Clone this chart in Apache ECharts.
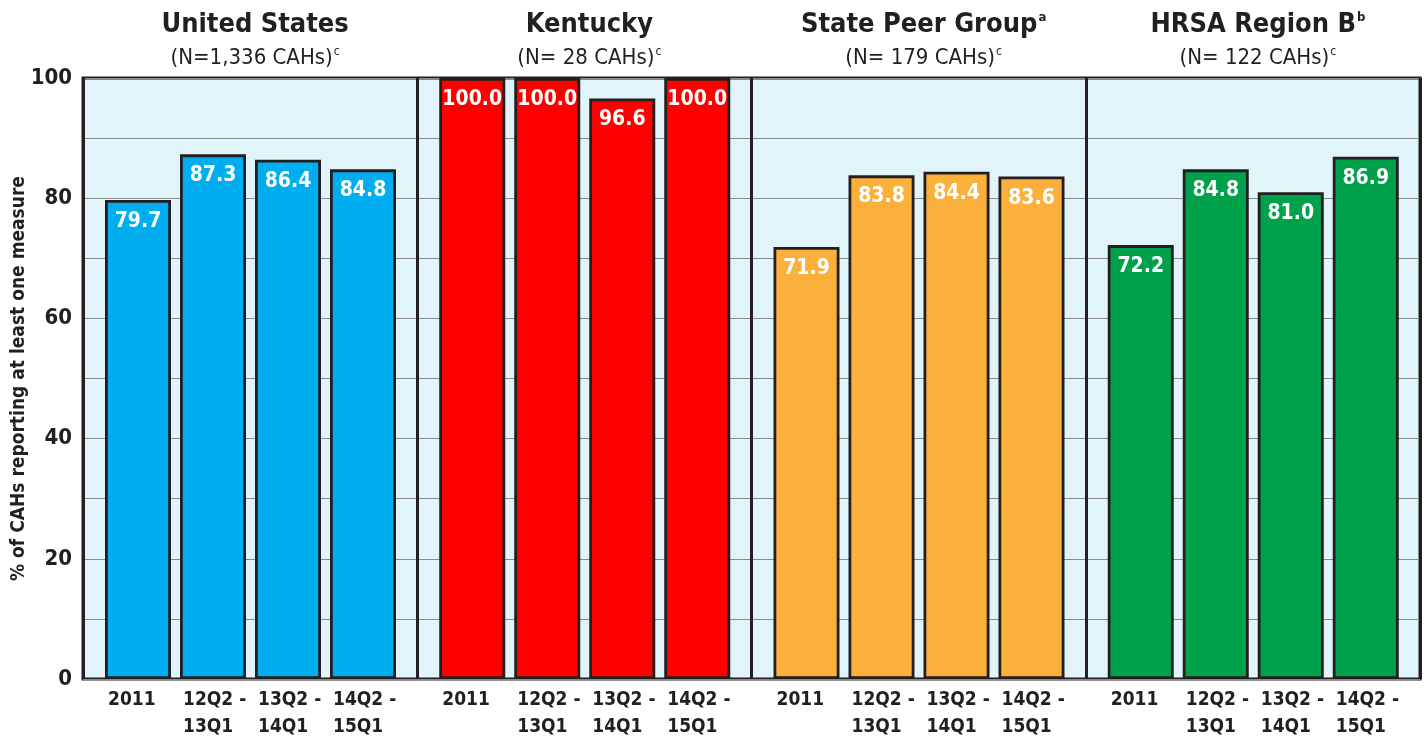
<!DOCTYPE html>
<html>
<head>
<meta charset="utf-8">
<script src="https://cdn.jsdelivr.net/npm/echarts@6/dist/echarts.min.js"></script>
<style>
  html, body { margin: 0; padding: 0; background: #fff; }
  #chart { width: 1426px; height: 740px; }
</style>
</head>
<body>
<div id="chart"></div>
<script>
// data
var periods = ['2011', '12Q2 -\n13Q1', '13Q2 -\n14Q1', '14Q2 -\n15Q1'];
var groupNames = ['United States', 'Kentucky', 'State Peer Group{sup|a}', 'HRSA Region B{sup|b}'];
var groupCounts = ['(N=1,336 CAHs){sup|c}', '(N= 28 CAHs){sup|c}', '(N= 179 CAHs){sup|c}', '(N= 122 CAHs){sup|c}'];
var usValues = [79.7, 87.3, 86.4, 84.8];
var kyValues = [100.0, 100.0, 96.6, 100.0];
var peerValues = [71.9, 83.8, 84.4, 83.6];
var hrsaValues = [72.2, 84.8, 81.0, 86.9];
var yTicks = [0, 20, 40, 60, 80, 100];

var groupValues = [usValues, kyValues, peerValues, hrsaValues];
var groupColors = ['#00aeef', '#ff0000', '#fbb03b', '#00a14b'];

var font = "'DejaVu Sans Condensed', 'Liberation Sans Narrow', sans-serif";
var dark = '#231f20';

var plotLeft = 83, plotRight = 1420, plotTop = 78, plotBottom = 679;
var panelW = (plotRight - plotLeft) / 4;

var chart = echarts.init(document.getElementById('chart'));

var grids = [{
    // background panel with gridlines and dividers
    left: plotLeft, top: plotTop, width: plotRight - plotLeft, height: plotBottom - plotTop,
    outerBoundsMode: 'none',
    show: true, backgroundColor: '#e1f4fa', borderColor: dark, borderWidth: 3
}];
var xAxes = [{
    gridIndex: 0, type: 'value', min: 0, max: 4, interval: 1,
    axisLine: { show: false }, axisTick: { show: false }, axisLabel: { show: false },
    splitLine: { show: true, lineStyle: { color: dark, width: 3 } }
}];
var yAxes = [{
    gridIndex: 0, type: 'value', min: 0, max: 100, interval: 10,
    axisLine: { show: false }, axisTick: { show: false },
    axisLabel: {
        margin: 11, fontFamily: font, fontWeight: 'bold', fontSize: 22, color: dark,
        formatter: function (v) { return yTicks.indexOf(v) >= 0 ? v : ''; }
    },
    splitLine: { show: true, lineStyle: { color: '#8a8a8a', width: 1.2 } },
    name: '% of CAHs reporting at least one measure',
    nameLocation: 'middle', nameRotate: 90, nameGap: 54, nameMoveOverlap: false,
    nameTextStyle: { fontFamily: font, fontWeight: 'bold', fontSize: 19, color: dark }
}];
var titles = [];
var series = [];

for (var g = 0; g < 4; g++) {
    var panelStart = plotLeft + g * panelW;
    grids.push({
        left: panelStart + 17.5, top: plotTop, width: 300, height: plotBottom - plotTop,
        outerBoundsMode: 'none'
    });
    xAxes.push({
        gridIndex: g + 1, type: 'category', data: periods,
        axisLine: { show: false }, axisTick: { show: false },
        axisLabel: {
            margin: 8, interval: 0,
            formatter: function (v) {
                return v.split('\n').map(function (s) { return '{p|' + s + '}'; }).join('\n');
            },
            rich: {
                p: { width: 60, align: 'left', fontFamily: font, fontWeight: 'bold', fontSize: 19, color: dark, lineHeight: 27 }
            }
        }
    });
    yAxes.push({ gridIndex: g + 1, type: 'value', min: 0, max: 100, show: false });
    series.push({
        type: 'bar', xAxisIndex: g + 1, yAxisIndex: g + 1,
        data: groupValues[g], barWidth: 66,
        itemStyle: { color: groupColors[g], borderColor: dark, borderWidth: 2.8 },
        label: {
            show: true, position: 'insideTop', distance: 11,
            fontFamily: font, fontWeight: 'bold', fontSize: 21, color: '#fff',
            formatter: function (p) { return p.value.toFixed(1); }
        }
    });
    titles.push({
        text: groupNames[g], subtext: groupCounts[g],
        left: panelStart + panelW / 2, textAlign: 'center', top: 6, itemGap: 8,
        textStyle: {
            fontFamily: font, fontWeight: 'bold', fontSize: 27, color: dark,
            rich: { sup: { fontFamily: font, fontWeight: 'bold', fontSize: 13, color: dark, verticalAlign: 'top', padding: [0, 0, 12, 1] } }
        },
        subtextStyle: {
            fontFamily: font, fontSize: 22, color: dark,
            rich: { sup: { fontFamily: font, fontSize: 12, color: dark, verticalAlign: 'top', padding: [0, 0, 12, 1] } }
        }
    });
}

chart.setOption({
    animation: false,
    title: titles,
    grid: grids,
    xAxis: xAxes,
    yAxis: yAxes,
    series: series
});
</script>
</body>
</html>
